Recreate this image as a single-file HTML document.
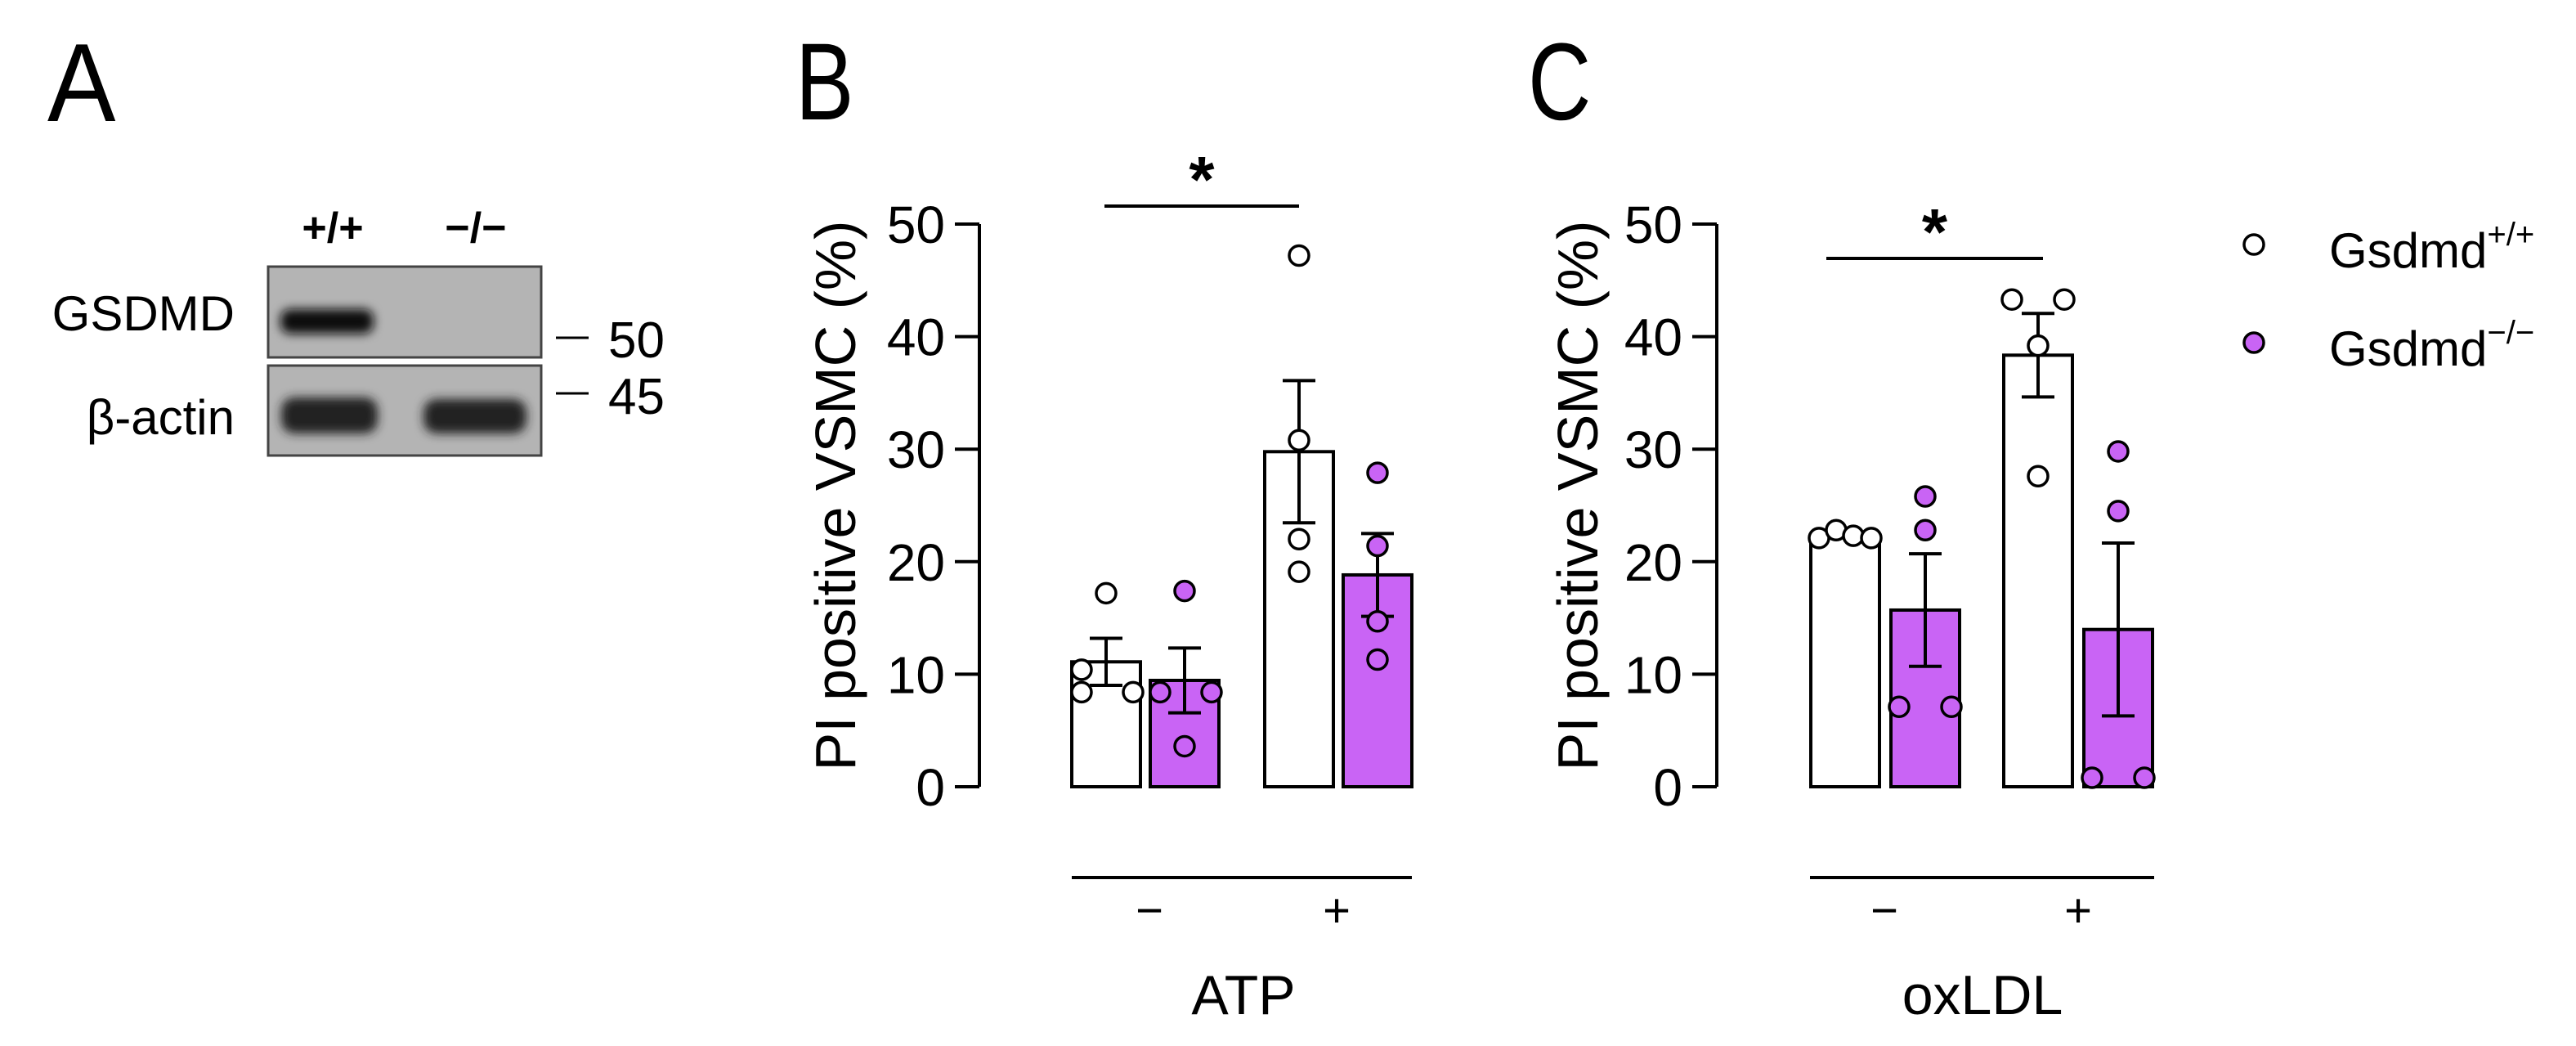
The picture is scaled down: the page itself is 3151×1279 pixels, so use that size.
<!DOCTYPE html>
<html><head><meta charset="utf-8"><style>
html,body{margin:0;padding:0;background:#fff;}
svg{display:block;font-family:"Liberation Sans",Arial,sans-serif;}
</style></head><body>
<svg id="fig" width="3151" height="1279" viewBox="0 0 3151 1279" xmlns="http://www.w3.org/2000/svg">
<defs>
<filter id="blur4" x="-20%" y="-50%" width="140%" height="200%"><feGaussianBlur stdDeviation="6"/></filter>
</defs>
<g>
<text x="58" y="148" font-size="136" transform="translate(58,0) scale(0.92,1) translate(-58,0)">A</text>
<text x="407" y="296" font-size="52" font-weight="bold" text-anchor="middle">+/+</text>
<text x="582" y="296" font-size="52" font-weight="bold" text-anchor="middle">−/−</text>
<text x="287" y="404" font-size="60" text-anchor="end">GSDMD</text>
<text x="287" y="531" font-size="60" text-anchor="end">β-actin</text>
<rect x="328" y="326" width="334" height="111" fill="#b4b4b4" stroke="#444" stroke-width="3"/>
<rect x="328" y="447" width="334" height="110" fill="#b4b4b4" stroke="#444" stroke-width="3"/>
<rect x="343" y="378" width="114" height="30" rx="12" fill="#111" filter="url(#blur4)"/>
<rect x="344" y="486" width="118" height="44" rx="16" fill="#222" filter="url(#blur4)"/>
<rect x="518" y="488" width="126" height="42" rx="16" fill="#222" filter="url(#blur4)"/>
<line x1="680" y1="413" x2="720" y2="413" stroke="#000" stroke-width="3"/>
<text x="744" y="437" font-size="62">50</text>
<line x1="680" y1="481" x2="720" y2="481" stroke="#000" stroke-width="3"/>
<text x="744" y="506" font-size="62">45</text>
</g>
<text x="973" y="146" font-size="134" transform="translate(973,0) scale(0.8,1) translate(-973,0)">B</text>
<text x="1869" y="146" font-size="134" transform="translate(1869,0) scale(0.8,1) translate(-1869,0)">C</text>
<g id="chartB"></g>
<g id="chartC"></g>
<g>
<circle cx="2757" cy="299" r="12" fill="#fff" stroke="#000" stroke-width="3.5"/>
<text x="2849" y="327" font-size="60">Gsdmd<tspan font-size="40" dy="-27">+/+</tspan></text>
<circle cx="2757" cy="419" r="12" fill="#c964f5" stroke="#000" stroke-width="3.5"/>
<text x="2849" y="447" font-size="60">Gsdmd<tspan font-size="40" dy="-27">−/−</tspan></text>
</g>
</svg>
<script>
// Panel B (ATP) data
const groupsB = ["−", "+"];
const wtPointsB = [[17.2, 10.4, 8.4, 8.4], [47.2, 30.8, 22.0, 19.1]];
const koPointsB = [[17.4, 8.4, 8.4, 3.6], [27.9, 21.4, 14.7, 11.3]];
// Panel C (oxLDL) data
const groupsC = ["−", "+"];
const wtPointsC = [[22.1, 22.8, 22.3, 22.1], [43.3, 43.3, 39.2, 27.6]];
const koPointsC = [[25.8, 22.8, 7.1, 7.1], [29.8, 24.5, 0.8, 0.8]];
const yTicks = [0, 10, 20, 30, 40, 50];

const NS = "http://www.w3.org/2000/svg";
function mk(parent, tag, attrs, txt){
  const e = document.createElementNS(NS, tag);
  for (const k in attrs) e.setAttribute(k, attrs[k]);
  if (txt !== undefined) e.textContent = txt;
  parent.appendChild(e);
  return e;
}
function mean(a){return a.reduce((s,v)=>s+v,0)/a.length;}
function sem(a){const m=mean(a);const v=a.reduce((s,x)=>s+(x-m)*(x-m),0)/(a.length-1);return Math.sqrt(v)/Math.sqrt(a.length);}
const Y0 = 962, Y50 = 274;
function yS(v){return Y0 - (v/50)*(Y0-Y50);}

function drawChart(g, cfg){
  const axX = cfg.axisX;
  let e;
  e = mk(g,"line",{x1:axX,y1:yS(0),x2:axX,y2:yS(50),stroke:"#000","stroke-width":4});
  
  
  yTicks.forEach(t=>{
    const l = mk(g,"line",{x1:axX-30,y1:yS(t),x2:axX,y2:yS(t),stroke:"#000","stroke-width":4});
    
    
    const tx = mk(g,"text",{x:axX-42,y:yS(t)+23,"font-size":64,"text-anchor":"end"},String(t));
    
    
  });
  const tt = mk(g,"text",{x:0,y:0,"font-size":70,"text-anchor":"middle",transform:`translate(${cfg.titleX},606) rotate(-90)`},"PI positive VSMC (%)");
  
  
  const bw = 84;
  const series = [cfg.wt, cfg.ko];
  cfg.groups.forEach((gname, gi)=>{
    series.forEach((ser, si)=>{
      const pts = ser[gi];
      const m = mean(pts), s = sem(pts);
      const left = cfg.barLeft[gi] + si*cfg.pairGap;
      const cx = left + bw/2;
      const r = mk(g,"rect",{x:left,y:yS(m),width:bw,height:yS(0)-yS(m),fill:si?"#c964f5":"#fff",stroke:"#000","stroke-width":4});
      
      
      const eb = mk(g,"path",{d:`M${cx},${yS(m-s)}V${yS(m+s)}M${cx-20},${yS(m+s)}H${cx+20}M${cx-20},${yS(m-s)}H${cx+20}`,stroke:"#000","stroke-width":4,fill:"none"});
      
      
      const offs = cfg.offsets[si][gi];
      pts.forEach((v,pi)=>{
        const c = mk(g,"circle",{cx:cx+offs[pi],cy:yS(v),r:12,fill:si?"#c964f5":"#fff",stroke:"#000","stroke-width":3.5});
        
        
      });
    });
    const gl = mk(g,"text",{x:cfg.groupLabelX[gi],y:1133,"font-size":58,"text-anchor":"middle"},gname);
    
    
  });
  e = mk(g,"line",{x1:cfg.baseLine[0],y1:1073,x2:cfg.baseLine[1],y2:1073,stroke:"#000","stroke-width":4});
  
  
  e = mk(g,"text",{x:cfg.xTitleX,y:1240,"font-size":68,"text-anchor":"middle"},cfg.xTitle);
  
  
  e = mk(g,"line",{x1:cfg.sig[0],y1:cfg.sig[2],x2:cfg.sig[1],y2:cfg.sig[2],stroke:"#000","stroke-width":4});
  
  
  e = mk(g,"text",{x:(cfg.sig[0]+cfg.sig[1])/2,y:cfg.sig[2]-5,"font-size":80,"font-weight":"bold","text-anchor":"middle"},"*");
  
  
}

drawChart(document.getElementById('chartB'), {
  axisX:1198, titleX:1046, groups:groupsB, wt:wtPointsB, ko:koPointsB,
  barLeft:[1311,1547], pairGap:96,
  offsets:[[[0,-30,-30,33],[0,0,0,0]],[[0,-30,33,0],[0,0,0,0]]],
  groupLabelX:[1406,1635], baseLine:[1311,1727], xTitle:"ATP", xTitleX:1521,
  sig:[1351,1589,252]
});
drawChart(document.getElementById('chartC'), {
  axisX:2100, titleX:1954, groups:groupsC, wt:wtPointsC, ko:koPointsC,
  barLeft:[2215,2451], pairGap:98,
  offsets:[[[-32,-11,10,32],[-32,32,0,0]],[[0,0,-32,32],[0,0,-32,32]]],
  groupLabelX:[2305,2542], baseLine:[2214,2635], xTitle:"oxLDL", xTitleX:2425,
  sig:[2234,2499,316]
});
</script>
</body></html>
